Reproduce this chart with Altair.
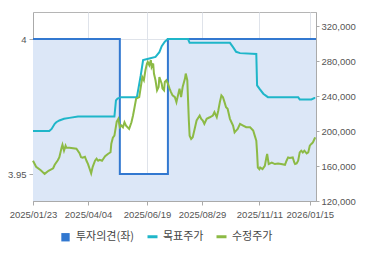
import altair as alt
import pandas as pd

# ---------------- data ----------------
series_names = ["투자의견(좌)", "목표주가", "수정주가"]
series_colors = ["#3278d0", "#1fb6c9", "#8cba45"]

opinion_dates = ["2025-01-23", "2025-05-15", "2025-07-16", "2026-01-23"]
opinion_values = [4, 3.95, 4, 4]

target_dates = ["2025-01-23", "2025-02-13", "2025-02-16", "2025-02-20", "2025-02-22",
                "2025-02-26", "2025-03-04", "2025-03-11", "2025-03-22", "2025-05-08",
                "2025-05-10", "2025-05-12", "2025-05-17", "2025-06-06", "2025-06-08",
                "2025-06-11", "2025-06-14", "2025-06-22", "2025-06-30", "2025-07-05",
                "2025-07-08", "2025-07-12", "2025-07-16", "2025-08-11", "2025-08-13",
                "2025-10-04", "2025-10-08", "2025-10-12", "2025-10-17", "2025-11-07",
                "2025-11-08", "2025-11-11", "2025-11-16", "2025-11-22", "2025-12-31",
                "2026-01-02", "2026-01-17", "2026-01-21", "2026-01-22"]
target_values = [200000, 200000, 202400, 208200, 210000,
                 212000, 213900, 215000, 216500, 216500,
                 235000, 237000, 238700, 238700, 248700,
                 263700, 281000, 282800, 284700, 290100,
                 297000, 302000, 305100, 305100, 300800,
                 300800, 295900, 290500, 289000, 288000,
                 252200, 248400, 242600, 238700, 238700,
                 236100, 236100, 237600, 237600]

price_series = [
    ("2025-01-23", 166000), ("2025-01-27", 159100), ("2025-02-02", 155100), ("2025-02-07", 151000),
    ("2025-02-12", 154500), ("2025-02-18", 157400), ("2025-02-20", 161400), ("2025-02-24", 166500),
    ("2025-02-26", 170000), ("2025-03-01", 181500), ("2025-03-02", 184400), ("2025-03-04", 177500),
    ("2025-03-06", 183200), ("2025-03-07", 180900), ("2025-03-11", 180900), ("2025-03-20", 179800),
    ("2025-03-24", 174600), ("2025-03-26", 170000), ("2025-03-28", 169400), ("2025-03-31", 170600),
    ("2025-04-02", 166000), ("2025-04-04", 162200), ("2025-04-06", 156800), ("2025-04-08", 151600),
    ("2025-04-10", 159100), ("2025-04-13", 166000), ("2025-04-15", 168300), ("2025-04-17", 166000),
    ("2025-04-19", 167100), ("2025-04-22", 166000), ("2025-04-26", 171100), ("2025-04-30", 174000),
    ("2025-05-03", 175700), ("2025-05-04", 185500), ("2025-05-06", 192400), ("2025-05-08", 194700),
    ("2025-05-11", 210800), ("2025-05-13", 213900), ("2025-05-15", 204300), ("2025-05-17", 206200),
    ("2025-05-19", 204300), ("2025-05-21", 210000), ("2025-05-23", 206200), ("2025-05-27", 202400),
    ("2025-05-30", 210000), ("2025-06-01", 217700), ("2025-06-03", 227200), ("2025-06-05", 236900),
    ("2025-06-09", 238700), ("2025-06-10", 244500), ("2025-06-12", 256000), ("2025-06-13", 261700),
    ("2025-06-15", 258000), ("2025-06-17", 269400), ("2025-06-19", 277100), ("2025-06-20", 279000),
    ("2025-06-22", 275200), ("2025-06-24", 281000), ("2025-06-25", 273200), ("2025-06-27", 277100),
    ("2025-06-28", 265600), ("2025-06-30", 258000), ("2025-07-02", 246400), ("2025-07-04", 250200),
    ("2025-07-05", 261700), ("2025-07-08", 254100), ("2025-07-09", 248400), ("2025-07-11", 246400),
    ("2025-07-12", 256000), ("2025-07-14", 258000), ("2025-07-16", 254100), ("2025-07-18", 248700),
    ("2025-07-20", 244500), ("2025-07-22", 240700), ("2025-07-25", 238700), ("2025-07-27", 233000),
    ("2025-07-29", 240700), ("2025-07-31", 248400), ("2025-08-02", 238700), ("2025-08-04", 250200),
    ("2025-08-07", 259900), ("2025-08-08", 265600), ("2025-08-10", 258000), ("2025-08-11", 235000),
    ("2025-08-12", 212000), ("2025-08-13", 194700), ("2025-08-15", 190900), ("2025-08-17", 192800),
    ("2025-08-20", 204300), ("2025-08-22", 212000), ("2025-08-26", 217700), ("2025-08-28", 213900),
    ("2025-08-30", 212000), ("2025-09-01", 208200), ("2025-09-04", 213900), ("2025-09-08", 215700),
    ("2025-09-12", 217700), ("2025-09-14", 221500), ("2025-09-17", 215700), ("2025-09-19", 223400),
    ("2025-09-21", 233000), ("2025-09-23", 240700), ("2025-09-25", 238700), ("2025-09-27", 233000),
    ("2025-09-29", 227200), ("2025-10-01", 225400), ("2025-10-04", 213900), ("2025-10-06", 210000),
    ("2025-10-08", 206200), ("2025-10-10", 198500), ("2025-10-12", 200500), ("2025-10-14", 202400),
    ("2025-10-17", 208200), ("2025-10-21", 206200), ("2025-10-25", 204300), ("2025-10-30", 204300),
    ("2025-11-03", 200500), ("2025-11-05", 194700), ("2025-11-07", 189000), ("2025-11-08", 175500),
    ("2025-11-09", 158300), ("2025-11-11", 156400), ("2025-11-12", 158300), ("2025-11-15", 156400),
    ("2025-11-18", 160200), ("2025-11-20", 169800), ("2025-11-21", 173700), ("2025-11-23", 162200),
    ("2025-11-27", 164000), ("2025-12-01", 162200), ("2025-12-05", 162900), ("2025-12-09", 162200),
    ("2025-12-14", 161400), ("2025-12-16", 166000), ("2025-12-18", 169800), ("2025-12-20", 169100),
    ("2025-12-24", 169800), ("2025-12-26", 164000), ("2025-12-27", 162200), ("2025-12-29", 162900),
    ("2025-12-31", 166000), ("2026-01-02", 175500), ("2026-01-04", 177500), ("2026-01-06", 175500),
    ("2026-01-08", 177500), ("2026-01-11", 174400), ("2026-01-13", 175500), ("2026-01-15", 183200),
    ("2026-01-17", 185200), ("2026-01-19", 187000), ("2026-01-21", 190900), ("2026-01-22", 192800),
]

x_tick_dates = ["2025-01-23", "2025-04-04", "2025-06-19", "2025-08-29", "2025-11-11", "2026-01-15"]
x_domain = ["2025-01-23", "2026-01-23"]
left_ticks = [3.95, 4]
left_domain = [3.94, 4.01]
right_ticks = [120000, 160000, 200000, 240000, 280000, 320000]
right_domain = [120000, 336000]

# ---------------- frames ----------------
op_df = pd.DataFrame({"date": pd.to_datetime(opinion_dates), "value": opinion_values,
                      "series": series_names[0]})
tg_df = pd.DataFrame({"date": pd.to_datetime(target_dates), "value": target_values,
                      "series": series_names[1]})
pr_df = pd.DataFrame({"date": pd.to_datetime([d for d, _ in price_series]),
                      "value": [v for _, v in price_series], "series": series_names[2]})

FONT = "Liberation Sans"
FONT_SIZE = 9.5
LABEL_COLOR = "#555555"
AXIS_COLOR = "#aaaaaa"
GRID_COLOR = "#dfe3ea"

x_enc = alt.X(
    "date:T",
    scale=alt.Scale(domain=[pd.Timestamp(d).isoformat() for d in x_domain]),
    axis=alt.Axis(
        title=None, format="%Y/%m/%d", labelFont=FONT, labelFontSize=FONT_SIZE,
        labelColor=LABEL_COLOR, domainColor=AXIS_COLOR, tickColor=AXIS_COLOR,
        tickSize=4, labelPadding=4, gridColor=GRID_COLOR, grid=True,
        values=[pd.Timestamp(d).isoformat() for d in x_tick_dates],
        labelOverlap=False, labelFlush=False,
    ),
)

color_scale = alt.Scale(domain=series_names, range=series_colors)

is_op = "datum.value === '" + series_names[0] + "'"
legend = alt.Legend(
    title=None, orient="none", direction="horizontal",
    legendX=27, legendY=219,
    labelFont="Noto Sans CJK KR", labelFontSize=11, labelColor="#444444",
    columnPadding=6, labelOffset=5,
    values=series_names,
    symbolType=alt.ExprRef(expr=is_op + " ? 'square' : 'stroke'"),
    symbolSize=alt.ExprRef(expr=is_op + " ? 70 : 100"),
    symbolStrokeWidth=alt.ExprRef(expr=is_op + " ? 0 : 3"),
    symbolFillColor=alt.ExprRef(expr="scale('color', datum.value)"),
    symbolStrokeColor=alt.ExprRef(expr="scale('color', datum.value)"),
    symbolOpacity=1,
)

y_left = alt.Y(
    "value:Q",
    scale=alt.Scale(domain=left_domain, nice=False, zero=False),
    axis=alt.Axis(
        title=None, orient="left", values=left_ticks,
        labelExpr="datum.value >= 3.999 ? '4' : '3.95'",
        labelFont=FONT, labelFontSize=FONT_SIZE, labelColor=LABEL_COLOR,
        domainColor=AXIS_COLOR, tickColor=AXIS_COLOR, tickSize=4, labelPadding=3,
        grid=True, gridColor=GRID_COLOR,
    ),
)

area = alt.Chart(op_df).mark_area(interpolate="step-after", color="#dce7f7").encode(
    x=x_enc,
    y=y_left,
    y2=alt.datum(left_domain[0]),
)
op_line = alt.Chart(op_df).mark_line(interpolate="step-after", strokeWidth=2).encode(
    x=x_enc,
    y=y_left,
    color=alt.Color("series:N", scale=color_scale, legend=legend),
)
left_layer = alt.layer(area, op_line)

y_right = alt.Y(
    "value:Q",
    scale=alt.Scale(domain=right_domain, nice=False, zero=False),
    axis=alt.Axis(
        title=None, orient="right", values=right_ticks,
        labelExpr="format(datum.value, ',')",
        labelFont=FONT, labelFontSize=FONT_SIZE, labelColor=LABEL_COLOR,
        domainColor=AXIS_COLOR, tickColor=AXIS_COLOR, tickSize=3, labelPadding=2,
        grid=False,
    ),
)
tg_line = alt.Chart(tg_df).mark_line(strokeWidth=2).encode(
    x=x_enc, y=y_right,
    color=alt.Color("series:N", scale=color_scale, legend=legend),
)
pr_line = alt.Chart(pr_df).mark_line(strokeWidth=2).encode(
    x=x_enc, y=y_right,
    color=alt.Color("series:N", scale=color_scale, legend=legend),
)
right_layer = alt.layer(tg_line, pr_line)

chart = (
    alt.layer(left_layer, right_layer)
    .resolve_scale(y="independent")
    .properties(width=283, height=189, padding={"left": 7, "top": 12, "right": 5, "bottom": 5},
                background="white")
    .configure_view(stroke="#b5b5b5", strokeWidth=1)
)

chart.save("out.html", embed_options={"renderer": "svg", "actions": False})
